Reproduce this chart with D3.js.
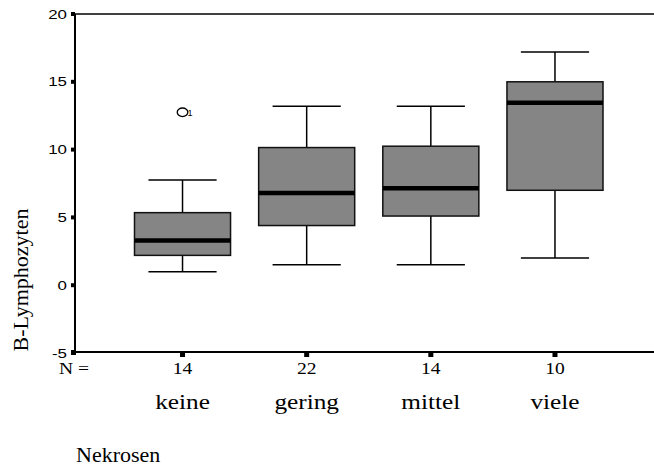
<!DOCTYPE html>
<html><head><meta charset="utf-8">
<script src="https://cdn.jsdelivr.net/npm/d3@7"></script>
<style>body{margin:0;background:#fff}svg{display:block}</style>
</head><body>
<svg id="c" width="654" height="466"></svg>
<script>
const categories = ["keine", "gering", "mittel", "viele"];
const counts = [14, 22, 14, 10];
const whiskerLow = [1.0, 1.5, 1.5, 2.0];
const q1 = [2.2, 4.4, 5.1, 7.0];
const median = [3.3, 6.8, 7.15, 13.45];
const q3 = [5.35, 10.15, 10.25, 15.0];
const whiskerHigh = [7.75, 13.2, 13.2, 17.2];
const outliers = [{cat: "keine", value: 12.75, label: "1"}];
const yTicks = [-5, 0, 5, 10, 15, 20];

(function () {
const svg = d3.select("#c");
const pLeft = 75, pTop = 14, pBottom = 353;
const y = d3.scaleLinear().domain([-5, 20]).range([pBottom, pTop]);
const x = d3.scaleBand().domain(categories).range([134.5, 603]).paddingInner(0.2264).paddingOuter(0);
const cx = c => x(c) + x.bandwidth() / 2;
const bw = x.bandwidth();
const capW = bw * 0.71;
const serif = "Liberation Serif, Times New Roman, serif";
const sans = "Liberation Sans, Arial, sans-serif";

const data = categories.map((c, i) => ({c, n: counts[i], lo: whiskerLow[i], q1: q1[i], med: median[i], q3: q3[i], hi: whiskerHigh[i]}));

function txt(px, py, sx, str, size, family, anchor) {
  return svg.append("text").attr("transform", `translate(${px},${py}) scale(${sx},1)`)
    .attr("text-anchor", anchor || "start").attr("font-family", family).attr("font-size", size).text(str);
}

// frame
svg.append("line").attr("x1", pLeft).attr("x2", 654).attr("y1", pTop).attr("y2", pTop).attr("stroke", "#000").attr("stroke-width", 1.5);
svg.append("line").attr("x1", pLeft).attr("x2", 654).attr("y1", pBottom - 1).attr("y2", pBottom - 1).attr("stroke", "#000").attr("stroke-width", 2);
svg.append("line").attr("x1", pLeft).attr("x2", pLeft).attr("y1", pTop).attr("y2", pBottom).attr("stroke", "#000").attr("stroke-width", 2);

// y ticks
yTicks.forEach(t => {
  svg.append("rect").attr("x", pLeft - 4).attr("y", y(t) - 2).attr("width", 4).attr("height", 4).attr("fill", "#000");
  txt(pLeft - 8, y(t) + 4.5, 1.3, t, 13, sans, "end");
});
svg.append("rect").attr("x", pLeft - 4).attr("y", pBottom - 3).attr("width", 5).attr("height", 5).attr("fill", "#000");

// x ticks
data.forEach(d => {
  svg.append("rect").attr("x", cx(d.c) - 2.5).attr("y", pBottom).attr("width", 5).attr("height", 4).attr("fill", "#000");
});

// boxes
const g = svg.append("g");
data.forEach(d => {
  const c = cx(d.c);
  g.append("line").attr("x1", c).attr("x2", c).attr("y1", y(d.hi)).attr("y2", y(d.q3)).attr("stroke", "#000").attr("stroke-width", 1.5);
  g.append("line").attr("x1", c).attr("x2", c).attr("y1", y(d.q1)).attr("y2", y(d.lo)).attr("stroke", "#000").attr("stroke-width", 1.5);
  g.append("line").attr("x1", c - capW / 2).attr("x2", c + capW / 2).attr("y1", y(d.hi)).attr("y2", y(d.hi)).attr("stroke", "#000").attr("stroke-width", 1.5);
  g.append("line").attr("x1", c - capW / 2).attr("x2", c + capW / 2).attr("y1", y(d.lo)).attr("y2", y(d.lo)).attr("stroke", "#000").attr("stroke-width", 1.5);
  g.append("rect").attr("x", x(d.c)).attr("y", y(d.q3)).attr("width", bw).attr("height", y(d.q1) - y(d.q3))
    .attr("fill", "#858585").attr("stroke", "#111").attr("stroke-width", 1.5);
  g.append("line").attr("x1", x(d.c)).attr("x2", x(d.c) + bw).attr("y1", y(d.med)).attr("y2", y(d.med)).attr("stroke", "#000").attr("stroke-width", 4.5);
});

// outliers
outliers.forEach(o => {
  svg.append("ellipse").attr("cx", cx(o.cat)).attr("cy", y(o.value)).attr("rx", 5.3).attr("ry", 4.3).attr("fill", "none").attr("stroke", "#000").attr("stroke-width", 1.3);
  txt(cx(o.cat) + 5, y(o.value) + 3.5, 1, o.label, 9, sans, "start");
});

// N labels and categories
txt(59, 374, 1.15, "N =", 17, serif, "start");
data.forEach(d => {
  txt(cx(d.c), 374, 1.15, d.n, 17, serif, "middle");
  txt(cx(d.c), 409, 1.15, d.c, 22, serif, "middle");
});

txt(76, 462, 1.0, "Nekrosen", 22, serif, "start");
svg.append("text").attr("transform", "translate(28,280) rotate(-90)").attr("text-anchor", "middle")
  .attr("font-family", serif).attr("font-size", 22).text("B-Lymphozyten");
})();
</script>
</body></html>
